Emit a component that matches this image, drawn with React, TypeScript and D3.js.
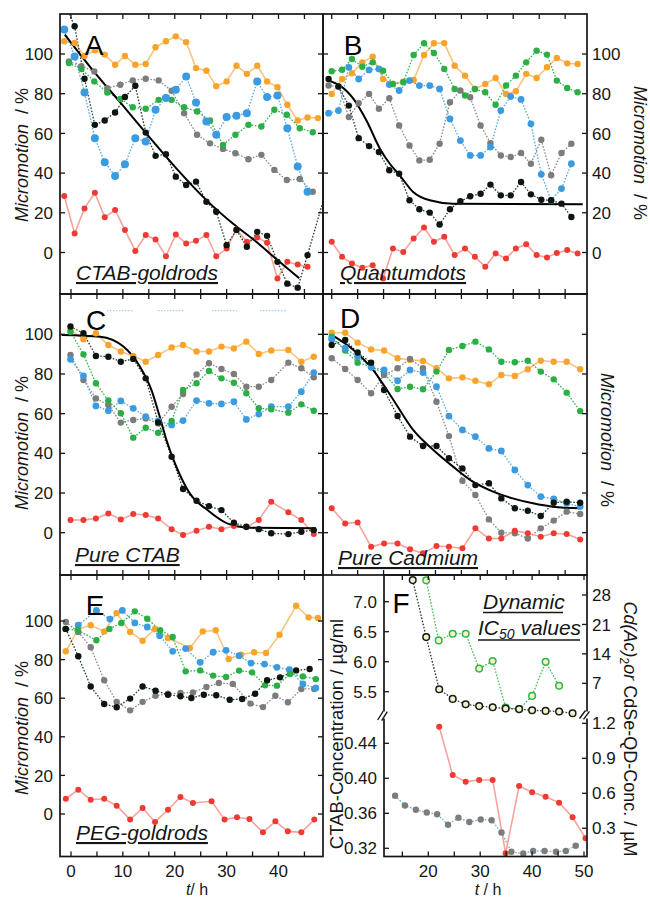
import React from "react";
import * as d3 from "d3";

// ---------- shared ticks ----------
const hourTicks = [0, 5, 10, 15, 20, 25, 30, 35, 40, 45];
const hourLabels = [0, 10, 20, 30, 40];
const fHourTicks = [15, 20, 25, 30, 35, 40, 45, 50];
const fHourLabels = [20, 30, 40, 50];
const pctTicks = [0, 20, 40, 60, 80, 100];
const fLeftUp = [5.5, 6.0, 6.5, 7.0];
const fLeftLow = [0.32, 0.36, 0.4, 0.44];
const fRightUp = [7, 14, 21, 28];
const fRightLow = [0.3, 0.6, 0.9, 1.2];

// ---------- A: CTAB-goldrods ----------
const tA = [-1.3, 0.7, 2.6, 4.6, 6.5, 8.5, 10.4, 12.4, 14.4, 16.3, 18.3, 20.2, 22.2, 24.1, 26.1, 28.0, 30.0, 31.9, 33.9, 35.9, 37.8, 39.8, 41.7, 43.7, 45.6, 47.6];
const tA2 = [-0.4, 2.0, 4.5, 7.0, 9.5, 11.9, 14.4, 16.9, 19.4, 21.8, 24.3, 26.8, 29.3, 31.7, 34.2, 36.7, 39.2, 41.6, 44.1, 46.6];
const aOrange = [106.4, 105.6, 99, 101.9, 99.7, 94.6, 99, 94.6, 95, 103.4, 106.4, 108.9, 106, 92.9, 91.6, 83.8, 86.2, 94.1, 90, 94.1, 86.2, 83.3, 74.4, 66.5, 68, 67.7];
const aBlue = [112.3, 98.8, 80.6, 57.6, 45.5, 38.6, 44.4, 57.6, 55.9, 71.9, 77.8, 82, 88.7, 75.6, 66, 59.3, 68.2, 68.9, 70.2, 86.2, 78.3, 79.1, 62.6, 43.3, 30.6];
const aRed = [28.5, 9.6, 22.2, 30.1, 17.7, 21.4, 11.3, 0.8, 8.8, 6.6, -1.9, 9.1, 4.5, 5.9, 8.8, -1.9, 2, 11.6, 5.4, 7.6, 4.9, -13.1, -4.7, -6.1, -7.2];
const aGreen = [95.5, 92.4, 86.2, 80.6, 77.4, 73.2, 72.4, 76.9, 76.9, 73.2, 71, 66.5, 54.2, 59.3, 64.3, 63.5, 71.9, 69.4, 62.6, 60.6];
const aGray = [96.3, 93.8, 91.2, 82.8, 84.5, 86.7, 87.5, 86.7, 81.5, 70.2, 59.3, 55, 52.2, 50, 47, 49.2, 41.6, 36.5, 37, 30.6];
const aBlackT = [-1.3, 0.7, 2.6, 4.6, 6.5, 8.5, 10.4, 12.4, 14.4, 16.3, 18.3, 20.2, 22.2, 24.1, 26.1, 28.0, 30.0, 31.9, 33.9, 35.9, 37.8, 39.8, 41.7, 43.7, 45.6, 49.6];
const aBlack = [126, 114, 87.5, 64.3, 66.5, 70.5, 78.3, 84, 60.4, 48.7, 49.5, 38.2, 34, 35.7, 25.6, 20.5, 3.7, 11.3, 2.9, 10.4, 8.4, -4.7, -15.7, -17.7, -1.3, 35];
const aFitT = [-1.2, 4.9, 9.7, 14.5, 20.3, 26.1, 31.2, 35.7, 40.2, 44.0];
const aFitV = [109.8, 89.6, 75, 60, 42.4, 26.4, 14.6, 5.4, -4.7, -13];

// ---------- B: Quantumdots ----------
const tB = [0, 2.0, 3.9, 5.9, 7.9, 9.9, 11.8, 13.8, 15.8, 17.8, 19.7, 21.7, 23.7, 25.7, 27.6, 29.6, 31.6, 33.6, 35.5, 37.5, 39.5, 41.5, 43.4, 45.4, 47.4];
const tB2 = [-0.6, 1.3, 3.3, 5.2, 7.2, 9.1, 11.1, 13.0, 15.0, 16.9, 18.9, 20.8, 22.8, 24.8, 26.7, 28.7, 30.6, 32.6, 34.5, 36.5, 38.4, 40.4, 42.3, 44.3, 46.2];
const bGreen = [91.3, 92.1, 97.5, 93.6, 95.8, 91.6, 84.9, 85.8, 99.5, 105.4, 100.5, 92.5, 82.4, 79.1, 82.4, 80.7, 74.4, 84.1, 89.1, 95.8, 101.7, 99.7, 86.6, 82.9, 80.7];
const bOrange = [79.9, 87.4, 90.3, 95.8, 98.7, 87.4, 84.9, 86.1, 86.9, 99.5, 105.4, 105.5, 94.1, 89.1, 82.4, 84.9, 87.9, 79.9, 81.2, 90, 87.9, 93.3, 98, 95.3, 95];
const bRed = [5.4, -2.2, -5.5, -7.7, -6.4, -13.1, 2, 0.3, 7, 12.6, 5.4, 7.9, -1.3, 2, -2.2, -7.2, -0.5, -3, 2, 4.2, -1.3, -2.5, -0.2, 1.2, -0.5];
const bBlue = [70.2, 71.5, 93.3, 87.4, 92, 92.5, 84.6, 81.6, 86.6, 84.1, 84.1, 82.4, 67.3, 56.4, 48.9, 48.9, 53.1, 71.5, 78.6, 77.1, 64.8, 39.4, 26.3, 32.2, 44.7];
const bGray = [84.1, 83.6, 68.2, 75.2, 79.9, 72.4, 77.7, 64, 53.9, 46.4, 46.7, 54.8, 75.7, 81.6, 78.2, 64, 55.1, 48.9, 48.1, 50.1, 44.7, 56.8, 38.9, 50.1, 54.8];
const bBlack = [87.4, 83.6, 74, 57.6, 53.6, 50.6, 41.4, 39.7, 26.3, 21.8, 20.1, 14.1, 21.8, 25.8, 28.3, 29.6, 34.2, 28.8, 28.8, 35.5, 29.3, 26.6, 26.3, 24.6, 17.9];
const bFitT = [-0.6, 1.6, 4.2, 6.7, 9.3, 11.2, 13.1, 15.7, 18.9, 23.4, 48.4];
const bFitV = [86.6, 84.1, 77.4, 66.5, 52.3, 44.7, 38.9, 30.5, 26.3, 24.6, 24.3];

// ---------- C: Pure CTAB ----------
const tC = [-0.1, 2.4, 4.8, 7.2, 9.6, 12.0, 14.4, 16.8, 19.4, 21.6, 24.2, 26.6, 29.0, 31.4, 33.8, 36.2, 38.6, 41.9, 44.4, 46.8];
const cOrange = [102.2, 97.5, 100.5, 94.6, 91.3, 89.1, 86.2, 89.6, 93.4, 94.6, 91.3, 91.3, 93.8, 92.9, 96.3, 90.1, 91.8, 92.1, 86.2, 88.7];
const cBlack = [103.9, 100.5, 89.1, 88.7, 86.2, 87.6, 77.8, 55.6, 38.3, 22, 16.1, 13.4, 11.4, 5, 3, 1.8, -0.3, -0.7, 0.5, 1.3];
const cGray = [89.6, 77, 67.7, 64.4, 55.5, 56.8, 57.6, 55.1, 63.5, 69.9, 79.8, 85.4, 82.5, 80, 73.6, 73.6, 77, 85.7, 82.9, 78.3];
const cBlue = [87.4, 79, 63.9, 61.5, 66.4, 62.7, 58.5, 56.3, 54.3, 56.5, 66.6, 65.2, 64.9, 66, 57.1, 59.8, 63.5, 63.5, 71.1, 80.7];
const cGreen = [101.3, 89.9, 75.3, 66.6, 60.2, 47.9, 52.9, 50.4, 56.3, 71.9, 75.3, 81.5, 77.8, 75.6, 70.3, 62.7, 62.2, 60.5, 64.7, 61.5];
const cRed = [6.4, 6.4, 7.2, 9.7, 6.7, 9.4, 8.9, 7.2, 1.8, -1.2, 1, 3, 1.8, 3.4, 2.7, 6.4, 15.6, 10.3, 6.4, -0.7];
const cFitT = [-1.8, 5.6, 10.1, 13.3, 15.5, 17.1, 18.4, 20.3, 22.9, 26.3, 30.1, 34.4, 47.2];
const cFitV = [99.7, 98.8, 93.8, 83.7, 72, 58.5, 46.7, 33.3, 19.8, 11.4, 4.7, 2.5, 2.2];

// ---------- D: Pure Cadmium ----------
const tD = [0, 2.6, 5.0, 7.6, 10.1, 12.7, 15.1, 17.6, 20.2, 22.6, 25.2, 27.7, 30.3, 32.7, 35.3, 37.8, 40.3, 42.8, 45.3, 47.9];
const dOrange = [100.8, 100.8, 95.8, 92.4, 91.8, 87.9, 87.1, 86.6, 82.9, 77.8, 78.3, 76.6, 74.8, 79.5, 79, 82.4, 86.7, 86.2, 86.2, 82.4];
const dGreen = [98.8, 91.8, 85.7, 83.7, 80.3, 72.4, 73.6, 72.3, 81.2, 92.1, 94.1, 96.3, 92.4, 86.2, 85.9, 86.7, 81.2, 77.3, 70.6, 61.3];
const dBlue = [97.5, 93, 88.7, 83.4, 82, 76.6, 82, 80.7, 73.6, 58.8, 51.8, 48.4, 42.5, 41.2, 31.6, 24, 18.2, 17, 14.8, 13.1];
const dGray = [87.9, 82.5, 77, 70.3, 79.5, 82.9, 87.6, 82.9, 66, 48.7, 26.2, 19, 6.7, 0, -0.3, -2.9, 2.2, 6.1, 10.6, 9.4];
const dBlack = [94.6, 97.1, 90.8, 85.7, 71.9, 58.8, 48.4, 43.7, 43.7, 37.5, 32.4, 24, 24.9, 17.3, 12.3, 11.1, 8.4, 15.1, 15.6, 15.1];
const dRed = [12.3, 4.7, 5.2, -7.1, -5.4, -5.4, -8.4, -10.4, -6.7, -7.1, -7.9, 2.2, -2.9, -2.9, 1, -0.3, -2, -0.3, -0.7, -3.4];
const dFitT = [0, 4.2, 8.0, 11.9, 15.7, 19.6, 23.4, 27.2, 31.1, 34.9, 38.8, 42.6, 47.9];
const dFitV = [99.7, 92.1, 82, 66.9, 51.8, 41.7, 33.3, 25.7, 20.7, 17.3, 14.8, 13.1, 12.3];

// ---------- E: PEG-goldrods ----------
const eOrangeT = [-1.0, 1.4, 3.8, 6.4, 8.8, 11.4, 13.8, 16.2, 18.7, 22.9, 25.4, 27.9, 30.4, 32.8, 35.3, 37.6, 40.2, 43.4, 45.8, 47.6];
const eOrange = [84.3, 95.9, 97.8, 94.6, 104.1, 94.3, 89.8, 95.9, 91.2, 86, 94.6, 95.2, 80.3, 82.6, 83.8, 83.4, 92.9, 107.9, 101.9, 101.6];
const eGreenT = [-1.1, 1.3, 4.9, 7.4, 9.7, 12.3, 14.7, 17.2, 19.6, 22.1, 24.9, 27.4, 29.9, 32.4, 34.9, 37.4, 39.7, 42.2, 44.7, 47.2];
const eGreen = [95.9, 95.2, 90, 95.9, 99, 105, 101.2, 95.2, 91.7, 73.9, 74.4, 71.7, 71, 74.3, 73.4, 66.7, 66.5, 72.5, 71.3, 69.9];
const eBlueT = [1.4, 4.9, 7.5, 9.9, 12.3, 14.7, 17.1, 19.6, 22.1, 24.9, 27.4, 29.9, 32.4, 34.7, 37.3, 39.7, 42.1, 44.7, 47.2];
const eBlue = [97.8, 105.5, 101, 105.5, 99, 96.9, 92.4, 84.3, 85.7, 78.6, 83.8, 84.8, 82, 78.2, 77.7, 76, 74.8, 67.4, 65.3];
const eGrayT = [-1.0, 1.4, 3.8, 6.4, 8.8, 11.4, 13.8, 16.3, 18.7, 21.1, 23.5, 26.1, 28.5, 31.2, 34.6, 37.0, 39.4, 41.8, 44.4, 46.9];
const eGray = [99.5, 94.3, 86.4, 69.3, 58.1, 53.7, 58.1, 61.3, 62.3, 62.7, 63, 65.8, 67.9, 67.4, 57.2, 55.4, 61.3, 57.9, 64.8, 64.8];
const eBlackT = [-1.0, 1.4, 3.8, 6.4, 8.8, 11.4, 13.8, 16.3, 18.7, 21.1, 23.2, 25.6, 28.0, 30.6, 33.0, 35.5, 37.8, 40.3, 43.4, 46.0];
const eBlack = [95.9, 81.7, 66.1, 57, 55.3, 59.8, 66.1, 63.9, 61.8, 61, 60.1, 61.8, 61.5, 59.2, 59.6, 62.3, 69.3, 70.8, 74.4, 75.1];
const eRedT = [-1.0, 1.4, 3.8, 6.4, 8.8, 11.4, 13.8, 16.2, 18.7, 21.1, 23.5, 27.1, 29.6, 32.0, 34.4, 37.0, 39.4, 41.8, 44.4, 46.9];
const eRed = [7.9, 12.6, 7.4, 7.9, 4.3, -2.9, 3.1, -4.1, 2.2, 8.8, 5.7, 6.6, -2.9, -1.7, -2.6, -9.5, -3.8, -9, -9.5, -2.9];

// ---------- F: dynamic IC50 ----------
const fCtabT = [17.0, 19.6, 22.1, 24.7, 27.2, 29.8, 32.4, 34.9, 37.5, 40.0, 42.6, 45.2, 47.8];
const fCtab = [7.36, 6.41, 5.54, 5.38, 5.29, 5.26, 5.24, 5.22, 5.21, 5.19, 5.18, 5.17, 5.14];
const fCdT = [19.6, 22.0, 24.7, 27.2, 29.8, 32.4, 34.9, 37.5, 40.0, 42.6, 45.2];
const fCd = [31.5, 17.2, 18.8, 18.8, 10.5, 12.3, 1.25, 0.85, 4, 12.1, 6.4];
const fQdT = [22.1, 24.7, 27.2, 29.8, 32.4, 34.9, 37.5, 40.0, 42.6, 45.2, 47.8, 50.3];
const fQd = [1.17, 0.757, 0.7, 0.714, 0.714, 0.086, 0.663, 0.609, 0.571, 0.52, 0.394, 0.215];
const fPegT = [13.6, 15.5, 17.6, 19.7, 21.7, 23.8, 25.8, 27.9, 30.1, 32.2, 34.1, 36.0, 38.3, 40.2, 42.4, 44.6, 46.5, 48.4];
const fPeg = [0.38, 0.369, 0.364, 0.361, 0.359, 0.347, 0.355, 0.35, 0.353, 0.352, 0.338, 0.316, 0.314, 0.317, 0.317, 0.316, 0.317, 0.323];

// ---------- scales ----------
const xL = d3.scaleLinear().domain([0, 40]).range([71, 278.5]);
const xR = d3.scaleLinear().domain([0, 40]).range([331.7, 539.2]);
const xF = d3.scaleLinear().domain([20, 50]).range([428.3, 584]);
const yTop = d3.scaleLinear().domain([0, 100]).range([252.5, 54]);
const yMid = d3.scaleLinear().domain([0, 100]).range([532.7, 334.3]);
const yBot = d3.scaleLinear().domain([0, 100]).range([814, 621]);
const yFL1 = d3.scaleLinear().domain([5.5, 7.0]).range([691.7, 601.7]);
const yFR1 = d3.scaleLinear().domain([7, 28]).range([683.3, 595]);
const yFL2 = d3.scaleLinear().domain([0.32, 0.44]).range([848.3, 743.3]);
const yFR2 = d3.scaleLinear().domain([0.3, 1.2]).range([828.3, 723.3]);

const FONT = "'Liberation Sans', Arial, Helvetica, sans-serif";
const INK = "#161616";

type Sty = { line: string; lw: number; dash?: string; r: number; fill: string; stroke?: string; sw?: number };
const ST: Record<string, Sty> = {
  orange: { line: "#f9c47e", lw: 1.6, r: 3.2, fill: "#f8a42c" },
  blue: { line: "#56abe6", lw: 1.3, dash: "1.6 1.6", r: 3.4, fill: "#3b9be0" },
  green: { line: "#2fb54a", lw: 1.3, dash: "1.6 1.6", r: 3.2, fill: "#2aae45" },
  gray: { line: "#8a8a8a", lw: 1.3, dash: "1.6 1.6", r: 3.2, fill: "#7c7c7c" },
  black: { line: "#24402c", lw: 1.3, dash: "1.6 1.6", r: 3.2, fill: "#0c160f" },
  red: { line: "#f6a39c", lw: 1.6, r: 3.0, fill: "#ee3a33" },
  ring: { line: "#2a3a2a", lw: 1.3, dash: "1.6 1.6", r: 3.3, fill: "#f3f1c8", stroke: "#1a1a1a", sw: 1.5 },
  ringG: { line: "#3cbf55", lw: 1.3, dash: "1.6 1.6", r: 3.3, fill: "#f3f1c8", stroke: "#2fb54a", sw: 1.5 },
  grayF: { line: "#5fb0e6", lw: 1.3, dash: "1.6 1.6", r: 3.2, fill: "#7c7c7c" },
};

type Ser = { t: number[]; v: number[]; s: Sty; ys?: any };
type Box = { x0: number; x1: number; y0: number; y1: number };

const BA: Box = { x0: 60, x1: 323, y0: 14, y1: 294 };
const BB: Box = { x0: 323, x1: 587, y0: 14, y1: 294 };
const BC: Box = { x0: 60, x1: 323, y0: 294, y1: 575 };
const BD: Box = { x0: 323, x1: 587, y0: 294, y1: 575 };
const BE: Box = { x0: 60, x1: 323, y0: 575, y1: 856.5 };
const BF: Box = { x0: 384, x1: 587, y0: 575, y1: 856.5 };

function Marks({ id, b, xs, ys, list, fitT, fitV }: any) {
  const mk = (sy: any) => d3.line<[number, number]>().x((d) => xs(d[0])).y((d) => sy(d[1]));
  const pts = (d: Ser) => d.v.map((val, i) => [d.t[i], val] as [number, number]);
  return (
    <g>
      <clipPath id={id}>
        <rect x={b.x0} y={b.y0} width={b.x1 - b.x0} height={b.y1 - b.y0} />
      </clipPath>
      <g clipPath={`url(#${id})`}>
        {list.map((d: Ser, k: number) => (
          <path key={"l" + k} d={mk(d.ys || ys)(pts(d)) || ""} fill="none" stroke={d.s.line}
            strokeWidth={d.s.lw} strokeDasharray={d.s.dash} />
        ))}
        {fitT && (
          <path d={mk(ys).curve(d3.curveMonotoneX)(fitT.map((t: number, i: number) => [t, fitV[i]])) || ""}
            fill="none" stroke="#000" strokeWidth={2} />
        )}
        {list.map((d: Ser, k: number) =>
          pts(d).map((p, i) => (
            <circle key={k + "-" + i} cx={xs(p[0])} cy={(d.ys || ys)(p[1])} r={d.s.r} fill={d.s.fill}
              stroke={d.s.stroke || "none"} strokeWidth={d.s.sw || 0} />
          ))
        )}
      </g>
    </g>
  );
}

function Frame({ b, xs, xt, left, right }: any) {
  const L = 5;
  return (
    <g stroke={INK} strokeWidth={1.3}>
      {xt.map((t: number) => (
        <g key={"x" + t}>
          <line x1={xs(t)} x2={xs(t)} y1={b.y1} y2={b.y1 - L} />
          <line x1={xs(t)} x2={xs(t)} y1={b.y0} y2={b.y0 + L} />
        </g>
      ))}
      {left.map((a: any, k: number) =>
        a.ticks.map((v: number) => <line key={"l" + k + v} x1={b.x0} x2={b.x0 + L} y1={a.ys(v)} y2={a.ys(v)} />)
      )}
      {right.map((a: any, k: number) =>
        a.ticks.map((v: number) => <line key={"r" + k + v} x1={b.x1} x2={b.x1 - L} y1={a.ys(v)} y2={a.ys(v)} />)
      )}
      <rect x={b.x0} y={b.y0} width={b.x1 - b.x0} height={b.y1 - b.y0} fill="none" strokeWidth={1.7} />
    </g>
  );
}

const YLabel = ({ x, y, rot, size = 18, children }: any) => (
  <text transform={`translate(${x},${y}) rotate(${rot})`} textAnchor="middle" dy="0.35em" fontSize={size} fill={INK}>
    {children}
  </text>
);

const Micro = () => (
  <>
    <tspan fontStyle="italic">Micromotion</tspan>
    {"\u00a0\u00a0/ %"}
  </>
);

const Letter = ({ x, y, c }: any) => (
  <text x={x} y={y} textAnchor="middle" fontSize={28} fill="#000">{c}</text>
);

const Name = ({ x, y, c }: any) => (
  <text x={x} y={y} fontSize={21} fontStyle="italic" fill={INK} style={{ textDecoration: "underline" }}>{c}</text>
);

export default function App() {
  const A: Ser[] = [
    { t: tA, v: aOrange, s: ST.orange },
    { t: tA2, v: aGray, s: ST.gray },
    { t: tA2, v: aGreen, s: ST.green },
    { t: tA, v: aBlue, s: { ...ST.blue, r: 4 } },
    { t: tA, v: aRed, s: ST.red },
    { t: aBlackT, v: aBlack, s: ST.black },
  ];
  const B: Ser[] = [
    { t: tB, v: bOrange, s: ST.orange },
    { t: tB2, v: bGray, s: ST.gray },
    { t: tB2, v: bBlue, s: ST.blue },
    { t: tB, v: bGreen, s: ST.green },
    { t: tB, v: bRed, s: ST.red },
    { t: tB2, v: bBlack, s: ST.black },
  ];
  const C: Ser[] = [
    { t: tC, v: cOrange, s: ST.orange },
    { t: tC, v: cGray, s: ST.gray },
    { t: tC, v: cBlue, s: ST.blue },
    { t: tC, v: cGreen, s: ST.green },
    { t: tC, v: cRed, s: ST.red },
    { t: tC, v: cBlack, s: ST.black },
  ];
  const D: Ser[] = [
    { t: tD, v: dOrange, s: ST.orange },
    { t: tD, v: dGreen, s: ST.green },
    { t: tD, v: dGray, s: ST.gray },
    { t: tD, v: dBlue, s: ST.blue },
    { t: tD, v: dRed, s: ST.red },
    { t: tD, v: dBlack, s: ST.black },
  ];
  const E: Ser[] = [
    { t: eOrangeT, v: eOrange, s: ST.orange },
    { t: eGrayT, v: eGray, s: ST.gray },
    { t: eBlueT, v: eBlue, s: ST.blue },
    { t: eGreenT, v: eGreen, s: ST.green },
    { t: eRedT, v: eRed, s: ST.red },
    { t: eBlackT, v: eBlack, s: ST.black },
  ];
  const F: Ser[] = [
    { t: fPegT, v: fPeg, s: ST.grayF, ys: yFL2 },
    { t: fQdT, v: fQd, s: ST.red, ys: yFR2 },
    { t: fCdT, v: fCd, s: ST.ringG, ys: yFR1 },
    { t: fCtabT, v: fCtab, s: ST.ring, ys: yFL1 },
  ];
  const pctAxis = (ys: any) => [{ ys, ticks: pctTicks }];
  const fmt2 = d3.format(".2f");
  const fmt1 = d3.format(".1f");

  return (
    <svg width={650} height={897} style={{ position: "absolute", left: 0, top: 0 }} fontFamily={FONT}>
      <rect width={650} height={897} fill="#fff" />

      <Marks id="cA" b={BA} xs={xL} ys={yTop} list={A} fitT={aFitT} fitV={aFitV} />
      <Marks id="cB" b={BB} xs={xR} ys={yTop} list={B} fitT={bFitT} fitV={bFitV} />
      <Marks id="cC" b={BC} xs={xL} ys={yMid} list={C} fitT={cFitT} fitV={cFitV} />
      <Marks id="cD" b={BD} xs={xR} ys={yMid} list={D} fitT={dFitT} fitV={dFitV} />
      <Marks id="cE" b={BE} xs={xL} ys={yBot} list={E} />
      <Marks id="cF" b={BF} xs={xF} ys={yFL1} list={F} />

      {/* faint dotted remnants at the top of panel C */}
      <g stroke="#9fcff0" strokeWidth={1.3} strokeDasharray="1.5 1.5">
        <line x1={107} x2={133} y1={310.7} y2={310.7} />
        <line x1={158} x2={185} y1={310.7} y2={310.7} />
        <line x1={212} x2={237} y1={310.7} y2={310.7} />
        <line x1={260} x2={287} y1={310.7} y2={310.7} />
      </g>

      <Frame b={BA} xs={xL} xt={hourTicks} left={pctAxis(yTop)} right={pctAxis(yTop)} />
      <Frame b={BB} xs={xR} xt={hourTicks} left={pctAxis(yTop)} right={pctAxis(yTop)} />
      <Frame b={BC} xs={xL} xt={hourTicks} left={pctAxis(yMid)} right={pctAxis(yMid)} />
      <Frame b={BD} xs={xR} xt={hourTicks} left={pctAxis(yMid)} right={pctAxis(yMid)} />
      <Frame b={BE} xs={xL} xt={hourTicks} left={pctAxis(yBot)} right={pctAxis(yBot)} />
      <Frame b={BF} xs={xF} xt={fHourTicks}
        left={[{ ys: yFL1, ticks: fLeftUp }, { ys: yFL2, ticks: fLeftLow }]}
        right={[{ ys: yFR1, ticks: fRightUp }, { ys: yFR2, ticks: fRightLow }]} />

      {/* axis breaks in F */}
      <rect x={381} y={711.5} width={6} height={7} fill="#fff" />
      <rect x={584} y={711.5} width={6} height={7} fill="#fff" />
      <g stroke={INK} strokeWidth={1.4}>
        <line x1={377.7} y1={720} x2={383.3} y2={711} />
        <line x1={381.7} y1={720.7} x2={387.3} y2={711.7} />
        <line x1={579.5} y1={718.5} x2={585.5} y2={710.5} />
        <line x1={583.5} y1={719.3} x2={589.5} y2={711.3} />
      </g>

      {/* tick labels */}
      <g fontSize={17} fill={INK}>
        {[yTop, yMid, yBot].map((ys, k) =>
          pctTicks.map((v) => (
            <text key={k + "-" + v} x={53} y={ys(v)} dy="0.36em" textAnchor="end">{v}</text>
          ))
        )}
        {pctTicks.map((v) => (
          <text key={"b" + v} x={592} y={yTop(v)} dy="0.36em">{v}</text>
        ))}
        {hourLabels.map((h) => (
          <text key={"h" + h} x={xL(h)} y={877} textAnchor="middle">{h}</text>
        ))}
        {fHourLabels.map((h) => (
          <text key={"fh" + h} x={xF(h)} y={877} textAnchor="middle">{h}</text>
        ))}
        {fLeftUp.map((v) => (
          <text key={"lu" + v} x={377} y={yFL1(v)} dy="0.36em" textAnchor="end">{fmt1(v)}</text>
        ))}
        {fLeftLow.map((v) => (
          <text key={"ll" + v} x={377} y={yFL2(v)} dy="0.36em" textAnchor="end">{fmt2(v)}</text>
        ))}
        {fRightUp.map((v) => (
          <text key={"ru" + v} x={592} y={yFR1(v)} dy="0.36em">{v}</text>
        ))}
        {fRightLow.map((v) => (
          <text key={"rl" + v} x={592} y={yFR2(v)} dy="0.36em">{fmt1(v)}</text>
        ))}
      </g>

      {/* x axis titles */}
      <text x={197} y={895} textAnchor="middle" fontSize={16} fill={INK}>
        <tspan fontStyle="italic">t</tspan>/ h
      </text>
      <text x={488} y={895} textAnchor="middle" fontSize={16} fill={INK}>
        <tspan fontStyle="italic">t</tspan> / h
      </text>

      {/* y axis titles */}
      <YLabel x={22} y={155} rot={-90}><Micro /></YLabel>
      <YLabel x={22} y={443} rot={-90}><Micro /></YLabel>
      <YLabel x={22} y={728} rot={-90}><Micro /></YLabel>
      <YLabel x={640} y={153} rot={90}><Micro /></YLabel>
      <YLabel x={607} y={440} rot={90}><Micro /></YLabel>
      <YLabel x={337} y={734} rot={-90} size={18.5}>CTAB-Concentration / µg/ml</YLabel>
      <YLabel x={630} y={729} rot={90} size={18}>
        <tspan fontStyle="italic">Cd(Ac)</tspan>
        <tspan fontSize={12} dy={4}>2</tspan>
        <tspan fontStyle="italic" dy={-4}>or</tspan> CdSe-QD-Conc. / µM
      </YLabel>

      {/* panel letters */}
      <Letter x={94} y={55} c="A" />
      <Letter x={353} y={55} c="B" />
      <Letter x={96} y={330} c="C" />
      <Letter x={350} y={328} c="D" />
      <Letter x={95} y={615} c="E" />
      <Letter x={401} y={613} c="F" />

      {/* panel names */}
      <Name x={76} y={280} c="CTAB-goldrods" />
      <Name x={340} y={280} c="Quantumdots" />
      <Name x={75} y={562} c="Pure CTAB" />
      <Name x={338} y={565} c="Pure Cadmium" />
      <Name x={76} y={840} c="PEG-goldrods" />

      {/* F title */}
      <g fontSize={21} fontStyle="italic" fill={INK}>
        <text x={483} y={609}>Dynamic</text>
        <text x={478} y={635}>
          IC<tspan fontSize={14} dy={4}>50</tspan>
          <tspan dy={-4}> values</tspan>
        </text>
      </g>
      <g stroke={INK} strokeWidth={1.3}>
        <line x1={483} x2={563} y1={612.5} y2={612.5} />
        <line x1={478} x2={580} y1={640} y2={640} />
      </g>
    </svg>
  );
}
